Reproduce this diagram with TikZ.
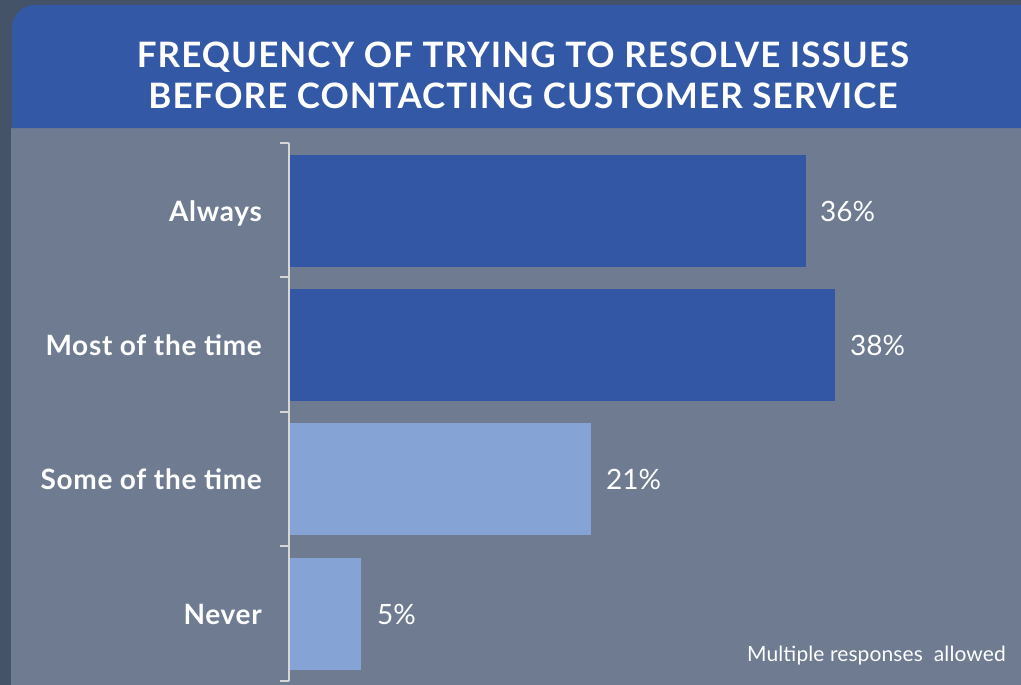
\documentclass[tikz,border=0pt]{standalone}
\usepackage{fontspec}
\setmainfont{Lato}
\newfontfamily\boldlato{Lato Bold}
\definecolor{outerbg}{HTML}{455368}
\definecolor{panel}{HTML}{6E7B90}
\definecolor{headblue}{HTML}{3358A6}
\definecolor{darkbar}{HTML}{3357A5}
\definecolor{lightbar}{HTML}{86A3D6}
\definecolor{axisgrey}{HTML}{D6D6D6}
\tikzset{
  barbox/.style={anchor=west, minimum height=112pt, inner sep=0pt, outer sep=0pt},
  dbar/.style={barbox, fill=darkbar},
  lbar/.style={barbox, fill=lightbar},
  cat/.style={anchor=base east, inner sep=0pt, text=white, font=\boldlato\fontsize{28}{30}\selectfont\addfontfeatures{LetterSpace=2.5}},
  val/.style={anchor=west, inner sep=0pt, text=white, font=\fontsize{28}{30}\selectfont},
  axisline/.style={draw=axisgrey, line width=2pt},
}
\begin{document}
\begin{tikzpicture}[x=1pt,y=-1pt]
\useasboundingbox (0,0) rectangle (1021,685);
\fill[outerbg] (0,0) rectangle (1021,685);
\fill[panel] (11,128) rectangle (1021,685);
\fill[headblue] (12,128) -- (12,28) arc[start angle=180,end angle=270,radius=23] -- (1021,5) -- (1021,128) -- cycle;
\node[anchor=base, text=white, align=center, inner sep=0pt, font=\boldlato\fontsize{35}{40}\selectfont\addfontfeatures{LetterSpace=3}] (title) at (523,108) {FREQUENCY OF TRYING TO RESOLVE ISSUES\\BEFORE CONTACTING CUSTOMER SERVICE};
% axis
\coordinate (atop) at (289,143);
\coordinate (abot) at (289,681);
\draw[axisline] (atop) -- (abot);
\foreach \yy/\nm in {143/t0,277/t1,412/t2,546/t3,681/t4}{
  \coordinate (\nm a) at (280,\yy);
  \coordinate (\nm b) at (289,\yy);
  \draw[axisline] (\nm a) -- (\nm b);
}
% bars
\node[dbar, minimum width=516pt] (b1) at (290,211) {};
\node[dbar, minimum width=545pt] (b2) at (290,345) {};
\node[lbar, minimum width=301pt] (b3) at (290,479) {};
\node[lbar, minimum width=71pt] (b4) at (290,614) {};
% values
\node[val] (v1) at ([xshift=14pt]b1.east) {36\%};
\node[val] (v2) at ([xshift=15pt]b2.east) {38\%};
\node[val] (v3) at ([xshift=15pt]b3.east) {21\%};
\node[val] (v4) at ([xshift=16pt]b4.east) {5\%};
% categories
\node[cat] (c1) at (262,221) {Always};
\node[cat] (c2) at (262,355) {Most of the time};
\node[cat] (c3) at (262,489) {Some of the time};
\node[cat] (c4) at (262,624) {Never};
\node[anchor=base east, inner sep=0pt, text=white, font=\fontsize{21}{24}\selectfont\addfontfeatures{LetterSpace=0.5}] (note) at (1006,661) {Multiple responses\ \ allowed};
\end{tikzpicture}
\end{document}
